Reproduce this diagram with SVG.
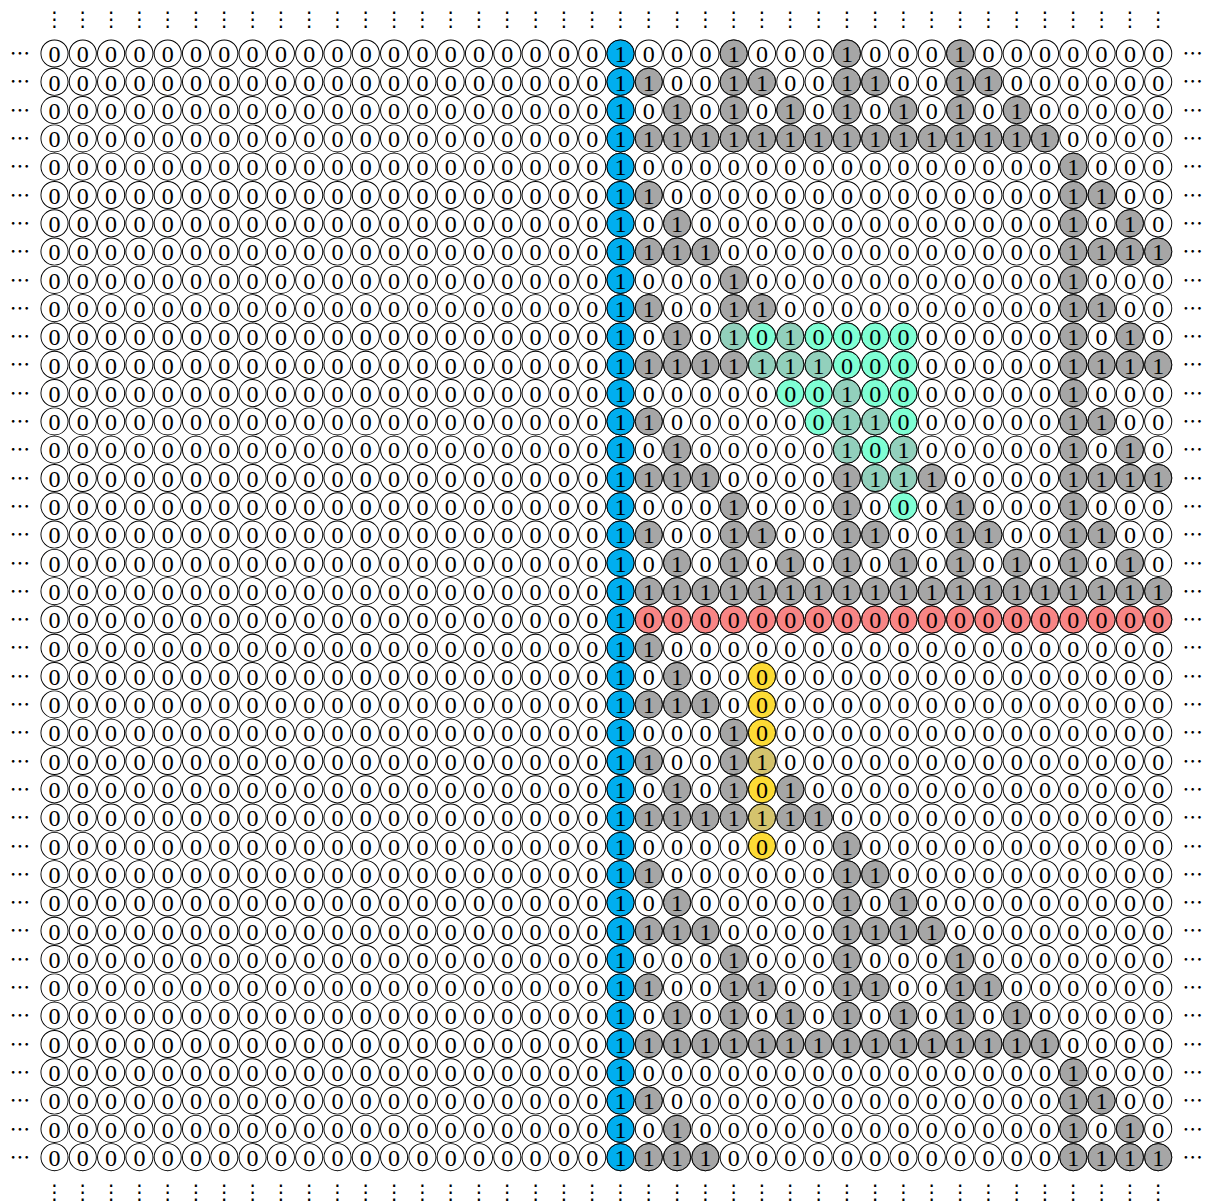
<svg xmlns="http://www.w3.org/2000/svg" width="1208" height="1204" viewBox="0 0 1208 1204">
<style>
text{font-family:"Liberation Serif","DejaVu Serif",serif;font-size:85px;text-anchor:middle;fill:#000}
text.d{font-family:"Noto Sans CJK JP","DejaVu Sans",sans-serif;font-size:72px}
circle{stroke:#000;stroke-width:3.3}
.b circle{fill:#00AEEF}.g circle{fill:#A6A6A6}.r circle{fill:#F88585}.a circle{fill:#7FFFD4}.t circle{fill:#92D0BC}.y circle{fill:#FDDB35}.o circle{fill:#D4C36D}
.grid{fill:none;stroke-linecap:round;stroke-dasharray:0 100}
</style>
<rect width="1208" height="1204" fill="#fff"/>
<g transform="translate(54.5 53.5) scale(0.283)">
<g id="cells">
<path class="grid" stroke="#000" stroke-width="99.1" d="M0 0H3950M0 100H3950M0 200H3950M0 300H3950M0 400H3950M0 500H3950M0 600H3950M0 700H3950M0 800H3950M0 900H3950M0 1000H3950M0 1100H3950M0 1200H3950M0 1300H3950M0 1400H3950M0 1500H3950M0 1600H3950M0 1700H3950M0 1800H3950M0 1900H3950M0 2000H3950M0 2100H3950M0 2200H3950M0 2300H3950M0 2400H3950M0 2500H3950M0 2600H3950M0 2700H3950M0 2800H3950M0 2900H3950M0 3000H3950M0 3100H3950M0 3200H3950M0 3300H3950M0 3400H3950M0 3500H3950M0 3600H3950M0 3700H3950M0 3800H3950M0 3900H3950"/>
<path class="grid" stroke="#fff" stroke-width="92.5" d="M0 0H3950M0 100H3950M0 200H3950M0 300H3950M0 400H3950M0 500H3950M0 600H3950M0 700H3950M0 800H3950M0 900H3950M0 1000H3950M0 1100H3950M0 1200H3950M0 1300H3950M0 1400H3950M0 1500H3950M0 1600H3950M0 1700H3950M0 1800H3950M0 1900H3950M0 2000H3950M0 2100H3950M0 2200H3950M0 2300H3950M0 2400H3950M0 2500H3950M0 2600H3950M0 2700H3950M0 2800H3950M0 2900H3950M0 3000H3950M0 3100H3950M0 3200H3950M0 3300H3950M0 3400H3950M0 3500H3950M0 3600H3950M0 3700H3950M0 3800H3950M0 3900H3950"/>
<g id="blue" class="b">
<circle cx="2000" cy="0" r="47.9"/><circle cx="2000" cy="100" r="47.9"/><circle cx="2000" cy="200" r="47.9"/><circle cx="2000" cy="300" r="47.9"/><circle cx="2000" cy="400" r="47.9"/><circle cx="2000" cy="500" r="47.9"/><circle cx="2000" cy="600" r="47.9"/><circle cx="2000" cy="700" r="47.9"/><circle cx="2000" cy="800" r="47.9"/><circle cx="2000" cy="900" r="47.9"/><circle cx="2000" cy="1000" r="47.9"/><circle cx="2000" cy="1100" r="47.9"/><circle cx="2000" cy="1200" r="47.9"/><circle cx="2000" cy="1300" r="47.9"/><circle cx="2000" cy="1400" r="47.9"/><circle cx="2000" cy="1500" r="47.9"/><circle cx="2000" cy="1600" r="47.9"/><circle cx="2000" cy="1700" r="47.9"/><circle cx="2000" cy="1800" r="47.9"/><circle cx="2000" cy="1900" r="47.9"/><circle cx="2000" cy="2000" r="47.9"/><circle cx="2000" cy="2100" r="47.9"/><circle cx="2000" cy="2200" r="47.9"/><circle cx="2000" cy="2300" r="47.9"/><circle cx="2000" cy="2400" r="47.9"/><circle cx="2000" cy="2500" r="47.9"/><circle cx="2000" cy="2600" r="47.9"/><circle cx="2000" cy="2700" r="47.9"/><circle cx="2000" cy="2800" r="47.9"/><circle cx="2000" cy="2900" r="47.9"/><circle cx="2000" cy="3000" r="47.9"/><circle cx="2000" cy="3100" r="47.9"/><circle cx="2000" cy="3200" r="47.9"/><circle cx="2000" cy="3300" r="47.9"/><circle cx="2000" cy="3400" r="47.9"/><circle cx="2000" cy="3500" r="47.9"/><circle cx="2000" cy="3600" r="47.9"/><circle cx="2000" cy="3700" r="47.9"/><circle cx="2000" cy="3800" r="47.9"/><circle cx="2000" cy="3900" r="47.9"/>
</g>
<g id="gray" class="g">
<circle cx="2400" cy="0" r="47.9"/><circle cx="2800" cy="0" r="47.9"/><circle cx="3200" cy="0" r="47.9"/>
<circle cx="2100" cy="100" r="47.9"/><circle cx="2400" cy="100" r="47.9"/><circle cx="2500" cy="100" r="47.9"/><circle cx="2800" cy="100" r="47.9"/><circle cx="2900" cy="100" r="47.9"/><circle cx="3200" cy="100" r="47.9"/><circle cx="3300" cy="100" r="47.9"/>
<circle cx="2200" cy="200" r="47.9"/><circle cx="2400" cy="200" r="47.9"/><circle cx="2600" cy="200" r="47.9"/><circle cx="2800" cy="200" r="47.9"/><circle cx="3000" cy="200" r="47.9"/><circle cx="3200" cy="200" r="47.9"/><circle cx="3400" cy="200" r="47.9"/>
<circle cx="2100" cy="300" r="47.9"/><circle cx="2200" cy="300" r="47.9"/><circle cx="2300" cy="300" r="47.9"/><circle cx="2400" cy="300" r="47.9"/><circle cx="2500" cy="300" r="47.9"/><circle cx="2600" cy="300" r="47.9"/><circle cx="2700" cy="300" r="47.9"/><circle cx="2800" cy="300" r="47.9"/><circle cx="2900" cy="300" r="47.9"/><circle cx="3000" cy="300" r="47.9"/><circle cx="3100" cy="300" r="47.9"/><circle cx="3200" cy="300" r="47.9"/><circle cx="3300" cy="300" r="47.9"/><circle cx="3400" cy="300" r="47.9"/><circle cx="3500" cy="300" r="47.9"/>
<circle cx="3600" cy="400" r="47.9"/>
<circle cx="2100" cy="500" r="47.9"/><circle cx="3600" cy="500" r="47.9"/><circle cx="3700" cy="500" r="47.9"/>
<circle cx="2200" cy="600" r="47.9"/><circle cx="3600" cy="600" r="47.9"/><circle cx="3800" cy="600" r="47.9"/>
<circle cx="2100" cy="700" r="47.9"/><circle cx="2200" cy="700" r="47.9"/><circle cx="2300" cy="700" r="47.9"/><circle cx="3600" cy="700" r="47.9"/><circle cx="3700" cy="700" r="47.9"/><circle cx="3800" cy="700" r="47.9"/><circle cx="3900" cy="700" r="47.9"/>
<circle cx="2400" cy="800" r="47.9"/><circle cx="3600" cy="800" r="47.9"/>
<circle cx="2100" cy="900" r="47.9"/><circle cx="2400" cy="900" r="47.9"/><circle cx="2500" cy="900" r="47.9"/><circle cx="3600" cy="900" r="47.9"/><circle cx="3700" cy="900" r="47.9"/>
<circle cx="2200" cy="1000" r="47.9"/><circle cx="3600" cy="1000" r="47.9"/><circle cx="3800" cy="1000" r="47.9"/>
<circle cx="2100" cy="1100" r="47.9"/><circle cx="2200" cy="1100" r="47.9"/><circle cx="2300" cy="1100" r="47.9"/><circle cx="2400" cy="1100" r="47.9"/><circle cx="3600" cy="1100" r="47.9"/><circle cx="3700" cy="1100" r="47.9"/><circle cx="3800" cy="1100" r="47.9"/><circle cx="3900" cy="1100" r="47.9"/>
<circle cx="3600" cy="1200" r="47.9"/>
<circle cx="2100" cy="1300" r="47.9"/><circle cx="3600" cy="1300" r="47.9"/><circle cx="3700" cy="1300" r="47.9"/>
<circle cx="2200" cy="1400" r="47.9"/><circle cx="3600" cy="1400" r="47.9"/><circle cx="3800" cy="1400" r="47.9"/>
<circle cx="2100" cy="1500" r="47.9"/><circle cx="2200" cy="1500" r="47.9"/><circle cx="2300" cy="1500" r="47.9"/><circle cx="2800" cy="1500" r="47.9"/><circle cx="3100" cy="1500" r="47.9"/><circle cx="3600" cy="1500" r="47.9"/><circle cx="3700" cy="1500" r="47.9"/><circle cx="3800" cy="1500" r="47.9"/><circle cx="3900" cy="1500" r="47.9"/>
<circle cx="2400" cy="1600" r="47.9"/><circle cx="2800" cy="1600" r="47.9"/><circle cx="3200" cy="1600" r="47.9"/><circle cx="3600" cy="1600" r="47.9"/>
<circle cx="2100" cy="1700" r="47.9"/><circle cx="2400" cy="1700" r="47.9"/><circle cx="2500" cy="1700" r="47.9"/><circle cx="2800" cy="1700" r="47.9"/><circle cx="2900" cy="1700" r="47.9"/><circle cx="3200" cy="1700" r="47.9"/><circle cx="3300" cy="1700" r="47.9"/><circle cx="3600" cy="1700" r="47.9"/><circle cx="3700" cy="1700" r="47.9"/>
<circle cx="2200" cy="1800" r="47.9"/><circle cx="2400" cy="1800" r="47.9"/><circle cx="2600" cy="1800" r="47.9"/><circle cx="2800" cy="1800" r="47.9"/><circle cx="3000" cy="1800" r="47.9"/><circle cx="3200" cy="1800" r="47.9"/><circle cx="3400" cy="1800" r="47.9"/><circle cx="3600" cy="1800" r="47.9"/><circle cx="3800" cy="1800" r="47.9"/>
<circle cx="2100" cy="1900" r="47.9"/><circle cx="2200" cy="1900" r="47.9"/><circle cx="2300" cy="1900" r="47.9"/><circle cx="2400" cy="1900" r="47.9"/><circle cx="2500" cy="1900" r="47.9"/><circle cx="2600" cy="1900" r="47.9"/><circle cx="2700" cy="1900" r="47.9"/><circle cx="2800" cy="1900" r="47.9"/><circle cx="2900" cy="1900" r="47.9"/><circle cx="3000" cy="1900" r="47.9"/><circle cx="3100" cy="1900" r="47.9"/><circle cx="3200" cy="1900" r="47.9"/><circle cx="3300" cy="1900" r="47.9"/><circle cx="3400" cy="1900" r="47.9"/><circle cx="3500" cy="1900" r="47.9"/><circle cx="3600" cy="1900" r="47.9"/><circle cx="3700" cy="1900" r="47.9"/><circle cx="3800" cy="1900" r="47.9"/><circle cx="3900" cy="1900" r="47.9"/>
<circle cx="2100" cy="2100" r="47.9"/>
<circle cx="2200" cy="2200" r="47.9"/>
<circle cx="2100" cy="2300" r="47.9"/><circle cx="2200" cy="2300" r="47.9"/><circle cx="2300" cy="2300" r="47.9"/>
<circle cx="2400" cy="2400" r="47.9"/>
<circle cx="2100" cy="2500" r="47.9"/><circle cx="2400" cy="2500" r="47.9"/>
<circle cx="2200" cy="2600" r="47.9"/><circle cx="2400" cy="2600" r="47.9"/><circle cx="2600" cy="2600" r="47.9"/>
<circle cx="2100" cy="2700" r="47.9"/><circle cx="2200" cy="2700" r="47.9"/><circle cx="2300" cy="2700" r="47.9"/><circle cx="2400" cy="2700" r="47.9"/><circle cx="2600" cy="2700" r="47.9"/><circle cx="2700" cy="2700" r="47.9"/>
<circle cx="2800" cy="2800" r="47.9"/>
<circle cx="2100" cy="2900" r="47.9"/><circle cx="2800" cy="2900" r="47.9"/><circle cx="2900" cy="2900" r="47.9"/>
<circle cx="2200" cy="3000" r="47.9"/><circle cx="2800" cy="3000" r="47.9"/><circle cx="3000" cy="3000" r="47.9"/>
<circle cx="2100" cy="3100" r="47.9"/><circle cx="2200" cy="3100" r="47.9"/><circle cx="2300" cy="3100" r="47.9"/><circle cx="2800" cy="3100" r="47.9"/><circle cx="2900" cy="3100" r="47.9"/><circle cx="3000" cy="3100" r="47.9"/><circle cx="3100" cy="3100" r="47.9"/>
<circle cx="2400" cy="3200" r="47.9"/><circle cx="2800" cy="3200" r="47.9"/><circle cx="3200" cy="3200" r="47.9"/>
<circle cx="2100" cy="3300" r="47.9"/><circle cx="2400" cy="3300" r="47.9"/><circle cx="2500" cy="3300" r="47.9"/><circle cx="2800" cy="3300" r="47.9"/><circle cx="2900" cy="3300" r="47.9"/><circle cx="3200" cy="3300" r="47.9"/><circle cx="3300" cy="3300" r="47.9"/>
<circle cx="2200" cy="3400" r="47.9"/><circle cx="2400" cy="3400" r="47.9"/><circle cx="2600" cy="3400" r="47.9"/><circle cx="2800" cy="3400" r="47.9"/><circle cx="3000" cy="3400" r="47.9"/><circle cx="3200" cy="3400" r="47.9"/><circle cx="3400" cy="3400" r="47.9"/>
<circle cx="2100" cy="3500" r="47.9"/><circle cx="2200" cy="3500" r="47.9"/><circle cx="2300" cy="3500" r="47.9"/><circle cx="2400" cy="3500" r="47.9"/><circle cx="2500" cy="3500" r="47.9"/><circle cx="2600" cy="3500" r="47.9"/><circle cx="2700" cy="3500" r="47.9"/><circle cx="2800" cy="3500" r="47.9"/><circle cx="2900" cy="3500" r="47.9"/><circle cx="3000" cy="3500" r="47.9"/><circle cx="3100" cy="3500" r="47.9"/><circle cx="3200" cy="3500" r="47.9"/><circle cx="3300" cy="3500" r="47.9"/><circle cx="3400" cy="3500" r="47.9"/><circle cx="3500" cy="3500" r="47.9"/>
<circle cx="3600" cy="3600" r="47.9"/>
<circle cx="2100" cy="3700" r="47.9"/><circle cx="3600" cy="3700" r="47.9"/><circle cx="3700" cy="3700" r="47.9"/>
<circle cx="2200" cy="3800" r="47.9"/><circle cx="3600" cy="3800" r="47.9"/><circle cx="3800" cy="3800" r="47.9"/>
<circle cx="2100" cy="3900" r="47.9"/><circle cx="2200" cy="3900" r="47.9"/><circle cx="2300" cy="3900" r="47.9"/><circle cx="3600" cy="3900" r="47.9"/><circle cx="3700" cy="3900" r="47.9"/><circle cx="3800" cy="3900" r="47.9"/><circle cx="3900" cy="3900" r="47.9"/>
</g>
<g id="red" class="r">
<circle cx="2100" cy="2000" r="47.9"/><circle cx="2200" cy="2000" r="47.9"/><circle cx="2300" cy="2000" r="47.9"/><circle cx="2400" cy="2000" r="47.9"/><circle cx="2500" cy="2000" r="47.9"/><circle cx="2600" cy="2000" r="47.9"/><circle cx="2700" cy="2000" r="47.9"/><circle cx="2800" cy="2000" r="47.9"/><circle cx="2900" cy="2000" r="47.9"/><circle cx="3000" cy="2000" r="47.9"/><circle cx="3100" cy="2000" r="47.9"/><circle cx="3200" cy="2000" r="47.9"/><circle cx="3300" cy="2000" r="47.9"/><circle cx="3400" cy="2000" r="47.9"/><circle cx="3500" cy="2000" r="47.9"/><circle cx="3600" cy="2000" r="47.9"/><circle cx="3700" cy="2000" r="47.9"/><circle cx="3800" cy="2000" r="47.9"/><circle cx="3900" cy="2000" r="47.9"/>
</g>
<g id="aqua" class="a">
<circle cx="2500" cy="1000" r="47.9"/><circle cx="2700" cy="1000" r="47.9"/><circle cx="2800" cy="1000" r="47.9"/><circle cx="2900" cy="1000" r="47.9"/><circle cx="3000" cy="1000" r="47.9"/>
<circle cx="2800" cy="1100" r="47.9"/><circle cx="2900" cy="1100" r="47.9"/><circle cx="3000" cy="1100" r="47.9"/>
<circle cx="2600" cy="1200" r="47.9"/><circle cx="2700" cy="1200" r="47.9"/><circle cx="2900" cy="1200" r="47.9"/><circle cx="3000" cy="1200" r="47.9"/>
<circle cx="2700" cy="1300" r="47.9"/><circle cx="3000" cy="1300" r="47.9"/>
<circle cx="2900" cy="1400" r="47.9"/>
<circle cx="3000" cy="1600" r="47.9"/>
</g>
<g id="aqua-gray" class="t">
<circle cx="2400" cy="1000" r="47.9"/><circle cx="2600" cy="1000" r="47.9"/>
<circle cx="2500" cy="1100" r="47.9"/><circle cx="2600" cy="1100" r="47.9"/><circle cx="2700" cy="1100" r="47.9"/>
<circle cx="2800" cy="1200" r="47.9"/>
<circle cx="2800" cy="1300" r="47.9"/><circle cx="2900" cy="1300" r="47.9"/>
<circle cx="2800" cy="1400" r="47.9"/><circle cx="3000" cy="1400" r="47.9"/>
<circle cx="2900" cy="1500" r="47.9"/><circle cx="3000" cy="1500" r="47.9"/>
</g>
<g id="yellow" class="y">
<circle cx="2500" cy="2200" r="47.9"/><circle cx="2500" cy="2300" r="47.9"/><circle cx="2500" cy="2400" r="47.9"/><circle cx="2500" cy="2600" r="47.9"/><circle cx="2500" cy="2800" r="47.9"/>
</g>
<g id="yellow-gray" class="o">
<circle cx="2500" cy="2500" r="47.9"/><circle cx="2500" cy="2700" r="47.9"/>
</g>
</g>
<g id="digits">
<text y="31" x="0 100 200 300 400 500 600 700 800 900 1000 1100 1200 1300 1400 1500 1600 1700 1800 1900 2000 2100 2200 2300 2400 2500 2600 2700 2800 2900 3000 3100 3200 3300 3400 3500 3600 3700 3800 3900">0000000000000000000010001000100010000000</text>
<text y="131" x="0 100 200 300 400 500 600 700 800 900 1000 1100 1200 1300 1400 1500 1600 1700 1800 1900 2000 2100 2200 2300 2400 2500 2600 2700 2800 2900 3000 3100 3200 3300 3400 3500 3600 3700 3800 3900">0000000000000000000011001100110011000000</text>
<text y="231" x="0 100 200 300 400 500 600 700 800 900 1000 1100 1200 1300 1400 1500 1600 1700 1800 1900 2000 2100 2200 2300 2400 2500 2600 2700 2800 2900 3000 3100 3200 3300 3400 3500 3600 3700 3800 3900">0000000000000000000010101010101010100000</text>
<text y="331" x="0 100 200 300 400 500 600 700 800 900 1000 1100 1200 1300 1400 1500 1600 1700 1800 1900 2000 2100 2200 2300 2400 2500 2600 2700 2800 2900 3000 3100 3200 3300 3400 3500 3600 3700 3800 3900">0000000000000000000011111111111111110000</text>
<text y="431" x="0 100 200 300 400 500 600 700 800 900 1000 1100 1200 1300 1400 1500 1600 1700 1800 1900 2000 2100 2200 2300 2400 2500 2600 2700 2800 2900 3000 3100 3200 3300 3400 3500 3600 3700 3800 3900">0000000000000000000010000000000000001000</text>
<text y="531" x="0 100 200 300 400 500 600 700 800 900 1000 1100 1200 1300 1400 1500 1600 1700 1800 1900 2000 2100 2200 2300 2400 2500 2600 2700 2800 2900 3000 3100 3200 3300 3400 3500 3600 3700 3800 3900">0000000000000000000011000000000000001100</text>
<text y="631" x="0 100 200 300 400 500 600 700 800 900 1000 1100 1200 1300 1400 1500 1600 1700 1800 1900 2000 2100 2200 2300 2400 2500 2600 2700 2800 2900 3000 3100 3200 3300 3400 3500 3600 3700 3800 3900">0000000000000000000010100000000000001010</text>
<text y="731" x="0 100 200 300 400 500 600 700 800 900 1000 1100 1200 1300 1400 1500 1600 1700 1800 1900 2000 2100 2200 2300 2400 2500 2600 2700 2800 2900 3000 3100 3200 3300 3400 3500 3600 3700 3800 3900">0000000000000000000011110000000000001111</text>
<text y="831" x="0 100 200 300 400 500 600 700 800 900 1000 1100 1200 1300 1400 1500 1600 1700 1800 1900 2000 2100 2200 2300 2400 2500 2600 2700 2800 2900 3000 3100 3200 3300 3400 3500 3600 3700 3800 3900">0000000000000000000010001000000000001000</text>
<text y="931" x="0 100 200 300 400 500 600 700 800 900 1000 1100 1200 1300 1400 1500 1600 1700 1800 1900 2000 2100 2200 2300 2400 2500 2600 2700 2800 2900 3000 3100 3200 3300 3400 3500 3600 3700 3800 3900">0000000000000000000011001100000000001100</text>
<text y="1031" x="0 100 200 300 400 500 600 700 800 900 1000 1100 1200 1300 1400 1500 1600 1700 1800 1900 2000 2100 2200 2300 2400 2500 2600 2700 2800 2900 3000 3100 3200 3300 3400 3500 3600 3700 3800 3900">0000000000000000000010101010000000001010</text>
<text y="1131" x="0 100 200 300 400 500 600 700 800 900 1000 1100 1200 1300 1400 1500 1600 1700 1800 1900 2000 2100 2200 2300 2400 2500 2600 2700 2800 2900 3000 3100 3200 3300 3400 3500 3600 3700 3800 3900">0000000000000000000011111111000000001111</text>
<text y="1231" x="0 100 200 300 400 500 600 700 800 900 1000 1100 1200 1300 1400 1500 1600 1700 1800 1900 2000 2100 2200 2300 2400 2500 2600 2700 2800 2900 3000 3100 3200 3300 3400 3500 3600 3700 3800 3900">0000000000000000000010000000100000001000</text>
<text y="1331" x="0 100 200 300 400 500 600 700 800 900 1000 1100 1200 1300 1400 1500 1600 1700 1800 1900 2000 2100 2200 2300 2400 2500 2600 2700 2800 2900 3000 3100 3200 3300 3400 3500 3600 3700 3800 3900">0000000000000000000011000000110000001100</text>
<text y="1431" x="0 100 200 300 400 500 600 700 800 900 1000 1100 1200 1300 1400 1500 1600 1700 1800 1900 2000 2100 2200 2300 2400 2500 2600 2700 2800 2900 3000 3100 3200 3300 3400 3500 3600 3700 3800 3900">0000000000000000000010100000101000001010</text>
<text y="1531" x="0 100 200 300 400 500 600 700 800 900 1000 1100 1200 1300 1400 1500 1600 1700 1800 1900 2000 2100 2200 2300 2400 2500 2600 2700 2800 2900 3000 3100 3200 3300 3400 3500 3600 3700 3800 3900">0000000000000000000011110000111100001111</text>
<text y="1631" x="0 100 200 300 400 500 600 700 800 900 1000 1100 1200 1300 1400 1500 1600 1700 1800 1900 2000 2100 2200 2300 2400 2500 2600 2700 2800 2900 3000 3100 3200 3300 3400 3500 3600 3700 3800 3900">0000000000000000000010001000100010001000</text>
<text y="1731" x="0 100 200 300 400 500 600 700 800 900 1000 1100 1200 1300 1400 1500 1600 1700 1800 1900 2000 2100 2200 2300 2400 2500 2600 2700 2800 2900 3000 3100 3200 3300 3400 3500 3600 3700 3800 3900">0000000000000000000011001100110011001100</text>
<text y="1831" x="0 100 200 300 400 500 600 700 800 900 1000 1100 1200 1300 1400 1500 1600 1700 1800 1900 2000 2100 2200 2300 2400 2500 2600 2700 2800 2900 3000 3100 3200 3300 3400 3500 3600 3700 3800 3900">0000000000000000000010101010101010101010</text>
<text y="1931" x="0 100 200 300 400 500 600 700 800 900 1000 1100 1200 1300 1400 1500 1600 1700 1800 1900 2000 2100 2200 2300 2400 2500 2600 2700 2800 2900 3000 3100 3200 3300 3400 3500 3600 3700 3800 3900">0000000000000000000011111111111111111111</text>
<text y="2031" x="0 100 200 300 400 500 600 700 800 900 1000 1100 1200 1300 1400 1500 1600 1700 1800 1900 2000 2100 2200 2300 2400 2500 2600 2700 2800 2900 3000 3100 3200 3300 3400 3500 3600 3700 3800 3900">0000000000000000000010000000000000000000</text>
<text y="2131" x="0 100 200 300 400 500 600 700 800 900 1000 1100 1200 1300 1400 1500 1600 1700 1800 1900 2000 2100 2200 2300 2400 2500 2600 2700 2800 2900 3000 3100 3200 3300 3400 3500 3600 3700 3800 3900">0000000000000000000011000000000000000000</text>
<text y="2231" x="0 100 200 300 400 500 600 700 800 900 1000 1100 1200 1300 1400 1500 1600 1700 1800 1900 2000 2100 2200 2300 2400 2500 2600 2700 2800 2900 3000 3100 3200 3300 3400 3500 3600 3700 3800 3900">0000000000000000000010100000000000000000</text>
<text y="2331" x="0 100 200 300 400 500 600 700 800 900 1000 1100 1200 1300 1400 1500 1600 1700 1800 1900 2000 2100 2200 2300 2400 2500 2600 2700 2800 2900 3000 3100 3200 3300 3400 3500 3600 3700 3800 3900">0000000000000000000011110000000000000000</text>
<text y="2431" x="0 100 200 300 400 500 600 700 800 900 1000 1100 1200 1300 1400 1500 1600 1700 1800 1900 2000 2100 2200 2300 2400 2500 2600 2700 2800 2900 3000 3100 3200 3300 3400 3500 3600 3700 3800 3900">0000000000000000000010001000000000000000</text>
<text y="2531" x="0 100 200 300 400 500 600 700 800 900 1000 1100 1200 1300 1400 1500 1600 1700 1800 1900 2000 2100 2200 2300 2400 2500 2600 2700 2800 2900 3000 3100 3200 3300 3400 3500 3600 3700 3800 3900">0000000000000000000011001100000000000000</text>
<text y="2631" x="0 100 200 300 400 500 600 700 800 900 1000 1100 1200 1300 1400 1500 1600 1700 1800 1900 2000 2100 2200 2300 2400 2500 2600 2700 2800 2900 3000 3100 3200 3300 3400 3500 3600 3700 3800 3900">0000000000000000000010101010000000000000</text>
<text y="2731" x="0 100 200 300 400 500 600 700 800 900 1000 1100 1200 1300 1400 1500 1600 1700 1800 1900 2000 2100 2200 2300 2400 2500 2600 2700 2800 2900 3000 3100 3200 3300 3400 3500 3600 3700 3800 3900">0000000000000000000011111111000000000000</text>
<text y="2831" x="0 100 200 300 400 500 600 700 800 900 1000 1100 1200 1300 1400 1500 1600 1700 1800 1900 2000 2100 2200 2300 2400 2500 2600 2700 2800 2900 3000 3100 3200 3300 3400 3500 3600 3700 3800 3900">0000000000000000000010000000100000000000</text>
<text y="2931" x="0 100 200 300 400 500 600 700 800 900 1000 1100 1200 1300 1400 1500 1600 1700 1800 1900 2000 2100 2200 2300 2400 2500 2600 2700 2800 2900 3000 3100 3200 3300 3400 3500 3600 3700 3800 3900">0000000000000000000011000000110000000000</text>
<text y="3031" x="0 100 200 300 400 500 600 700 800 900 1000 1100 1200 1300 1400 1500 1600 1700 1800 1900 2000 2100 2200 2300 2400 2500 2600 2700 2800 2900 3000 3100 3200 3300 3400 3500 3600 3700 3800 3900">0000000000000000000010100000101000000000</text>
<text y="3131" x="0 100 200 300 400 500 600 700 800 900 1000 1100 1200 1300 1400 1500 1600 1700 1800 1900 2000 2100 2200 2300 2400 2500 2600 2700 2800 2900 3000 3100 3200 3300 3400 3500 3600 3700 3800 3900">0000000000000000000011110000111100000000</text>
<text y="3231" x="0 100 200 300 400 500 600 700 800 900 1000 1100 1200 1300 1400 1500 1600 1700 1800 1900 2000 2100 2200 2300 2400 2500 2600 2700 2800 2900 3000 3100 3200 3300 3400 3500 3600 3700 3800 3900">0000000000000000000010001000100010000000</text>
<text y="3331" x="0 100 200 300 400 500 600 700 800 900 1000 1100 1200 1300 1400 1500 1600 1700 1800 1900 2000 2100 2200 2300 2400 2500 2600 2700 2800 2900 3000 3100 3200 3300 3400 3500 3600 3700 3800 3900">0000000000000000000011001100110011000000</text>
<text y="3431" x="0 100 200 300 400 500 600 700 800 900 1000 1100 1200 1300 1400 1500 1600 1700 1800 1900 2000 2100 2200 2300 2400 2500 2600 2700 2800 2900 3000 3100 3200 3300 3400 3500 3600 3700 3800 3900">0000000000000000000010101010101010100000</text>
<text y="3531" x="0 100 200 300 400 500 600 700 800 900 1000 1100 1200 1300 1400 1500 1600 1700 1800 1900 2000 2100 2200 2300 2400 2500 2600 2700 2800 2900 3000 3100 3200 3300 3400 3500 3600 3700 3800 3900">0000000000000000000011111111111111110000</text>
<text y="3631" x="0 100 200 300 400 500 600 700 800 900 1000 1100 1200 1300 1400 1500 1600 1700 1800 1900 2000 2100 2200 2300 2400 2500 2600 2700 2800 2900 3000 3100 3200 3300 3400 3500 3600 3700 3800 3900">0000000000000000000010000000000000001000</text>
<text y="3731" x="0 100 200 300 400 500 600 700 800 900 1000 1100 1200 1300 1400 1500 1600 1700 1800 1900 2000 2100 2200 2300 2400 2500 2600 2700 2800 2900 3000 3100 3200 3300 3400 3500 3600 3700 3800 3900">0000000000000000000011000000000000001100</text>
<text y="3831" x="0 100 200 300 400 500 600 700 800 900 1000 1100 1200 1300 1400 1500 1600 1700 1800 1900 2000 2100 2200 2300 2400 2500 2600 2700 2800 2900 3000 3100 3200 3300 3400 3500 3600 3700 3800 3900">0000000000000000000010100000000000001010</text>
<text y="3931" x="0 100 200 300 400 500 600 700 800 900 1000 1100 1200 1300 1400 1500 1600 1700 1800 1900 2000 2100 2200 2300 2400 2500 2600 2700 2800 2900 3000 3100 3200 3300 3400 3500 3600 3700 3800 3900">0000000000000000000011110000000000001111</text>
</g>
<g id="ellipses">
<text class="d" y="-98" x="0 100 200 300 400 500 600 700 800 900 1000 1100 1200 1300 1400 1500 1600 1700 1800 1900 2000 2100 2200 2300 2400 2500 2600 2700 2800 2900 3000 3100 3200 3300 3400 3500 3600 3700 3800 3900">⋮⋮⋮⋮⋮⋮⋮⋮⋮⋮⋮⋮⋮⋮⋮⋮⋮⋮⋮⋮⋮⋮⋮⋮⋮⋮⋮⋮⋮⋮⋮⋮⋮⋮⋮⋮⋮⋮⋮⋮</text>
<text class="d" y="4046" x="0 100 200 300 400 500 600 700 800 900 1000 1100 1200 1300 1400 1500 1600 1700 1800 1900 2000 2100 2200 2300 2400 2500 2600 2700 2800 2900 3000 3100 3200 3300 3400 3500 3600 3700 3800 3900">⋮⋮⋮⋮⋮⋮⋮⋮⋮⋮⋮⋮⋮⋮⋮⋮⋮⋮⋮⋮⋮⋮⋮⋮⋮⋮⋮⋮⋮⋮⋮⋮⋮⋮⋮⋮⋮⋮⋮⋮</text>
<text class="d" x="-122 -122 -122 -122 -122 -122 -122 -122 -122 -122 -122 -122 -122 -122 -122 -122 -122 -122 -122 -122 -122 -122 -122 -122 -122 -122 -122 -122 -122 -122 -122 -122 -122 -122 -122 -122 -122 -122 -122 -122" y="27 127 227 327 427 527 627 727 827 927 1027 1127 1227 1327 1427 1527 1627 1727 1827 1927 2027 2127 2227 2327 2427 2527 2627 2727 2827 2927 3027 3127 3227 3327 3427 3527 3627 3727 3827 3927">⋯⋯⋯⋯⋯⋯⋯⋯⋯⋯⋯⋯⋯⋯⋯⋯⋯⋯⋯⋯⋯⋯⋯⋯⋯⋯⋯⋯⋯⋯⋯⋯⋯⋯⋯⋯⋯⋯⋯⋯</text>
<text class="d" x="4022 4022 4022 4022 4022 4022 4022 4022 4022 4022 4022 4022 4022 4022 4022 4022 4022 4022 4022 4022 4022 4022 4022 4022 4022 4022 4022 4022 4022 4022 4022 4022 4022 4022 4022 4022 4022 4022 4022 4022" y="27 127 227 327 427 527 627 727 827 927 1027 1127 1227 1327 1427 1527 1627 1727 1827 1927 2027 2127 2227 2327 2427 2527 2627 2727 2827 2927 3027 3127 3227 3327 3427 3527 3627 3727 3827 3927">⋯⋯⋯⋯⋯⋯⋯⋯⋯⋯⋯⋯⋯⋯⋯⋯⋯⋯⋯⋯⋯⋯⋯⋯⋯⋯⋯⋯⋯⋯⋯⋯⋯⋯⋯⋯⋯⋯⋯⋯</text>
</g>
</g>
</svg>
